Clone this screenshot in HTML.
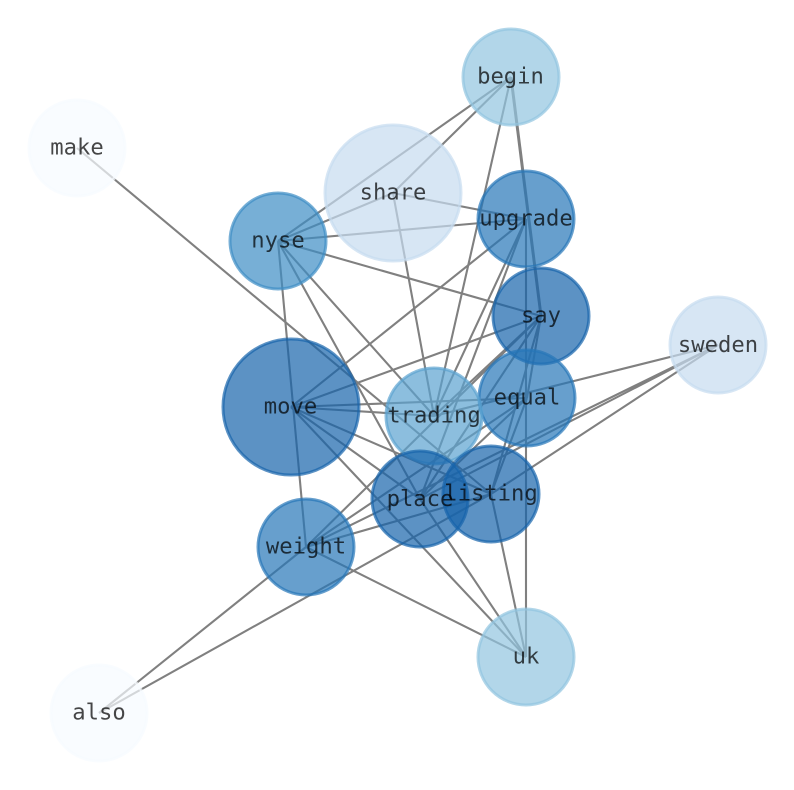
<!DOCTYPE html>
<html><head><meta charset="utf-8"><style>html,body{margin:0;padding:0;background:#fff}svg{display:block}text{font-family:"DejaVu Sans Mono",monospace;font-size:22.2px;text-anchor:middle;fill:#000;fill-opacity:.72}</style></head><body>
<svg width="794" height="790" viewBox="0 0 794 790" xmlns="http://www.w3.org/2000/svg">
<g stroke="#808080" stroke-width="2.1" fill="none">
<path d="M511 77L278 241M511 77L393 193M511 77L434 416"/>
<path d="M511 77L541 316" stroke-width="3"/>
<path d="M77 148L491 494"/>
<path d="M393 193L278 241M393 193L526 219M393 193L434 416"/>
<path d="M278 241L526 219M278 241L541 316M278 241L306 547M278 241L420 499M278 241L434 416"/>
<path d="M526 219L291 407M526 219L434 416M526 219L420 499M526 219L526 657"/>
<path d="M541 316L291 407M541 316L434 416M541 316L420 499M541 316L306 547M541 316L491 494M541 316L527 398"/>
<path d="M718 345L434 416M718 345L420 499M718 345L491 494M718 345L306 547"/>
<path d="M291 407L527 398M291 407L434 416M291 407L491 494M291 407L420 499M291 407L526 657"/>
<path d="M527 398L420 499M527 398L491 494M527 398L306 547"/>
<path d="M491 494L306 547M491 494L526 657M491 494L99 713"/>
<path d="M420 499L526 657"/>
<path d="M306 547L526 657M306 547L99 713"/>
</g>
<g stroke-width="3" fill-opacity=".7" stroke-opacity=".7">
<circle cx="511" cy="77" r="48" fill="#92c4df" stroke="#92c4df"/>
<circle cx="77" cy="148" r="48" fill="#f7fbff" stroke="#f7fbff"/>
<circle cx="393" cy="193" r="68" fill="#c6dbef" stroke="#c6dbef"/>
<circle cx="526" cy="219" r="48" fill="#2676b8" stroke="#2676b8"/>
<circle cx="278" cy="241" r="48" fill="#3d8dc4" stroke="#3d8dc4"/>
<circle cx="541" cy="316" r="48" fill="#1764ab" stroke="#1764ab"/>
<circle cx="718" cy="345" r="48" fill="#c6dbef" stroke="#c6dbef"/>
<circle cx="291" cy="407" r="68" fill="#1764ab" stroke="#1764ab"/>
<circle cx="527" cy="398" r="48" fill="#2676b8" stroke="#2676b8"/>
<circle cx="434" cy="416" r="48" fill="#5ba3d0" stroke="#5ba3d0"/>
<circle cx="491" cy="494" r="48" fill="#1764ab" stroke="#1764ab"/>
<circle cx="420" cy="499" r="48" fill="#1764ab" stroke="#1764ab"/>
<circle cx="306" cy="547" r="48" fill="#2676b8" stroke="#2676b8"/>
<circle cx="526" cy="657" r="48" fill="#92c4df" stroke="#92c4df"/>
<circle cx="99" cy="713" r="48" fill="#f7fbff" stroke="#f7fbff"/>
</g>
<text x="510.5" y="83.5">begin</text>
<text x="77" y="154.5">make</text>
<text x="393" y="199.5">share</text>
<text x="526" y="225.5">upgrade</text>
<text x="278" y="247.5">nyse</text>
<text x="541" y="322.5">say</text>
<text x="718" y="352">sweden</text>
<text x="290.5" y="413.5">move</text>
<text x="527" y="404.5">equal</text>
<text x="434" y="422.5">trading</text>
<text x="491" y="500.5">listing</text>
<text x="420" y="506">place</text>
<text x="306" y="553.5">weight</text>
<text x="526" y="663.5">uk</text>
<text x="99" y="719.5">also</text>
</svg>
</body></html>
